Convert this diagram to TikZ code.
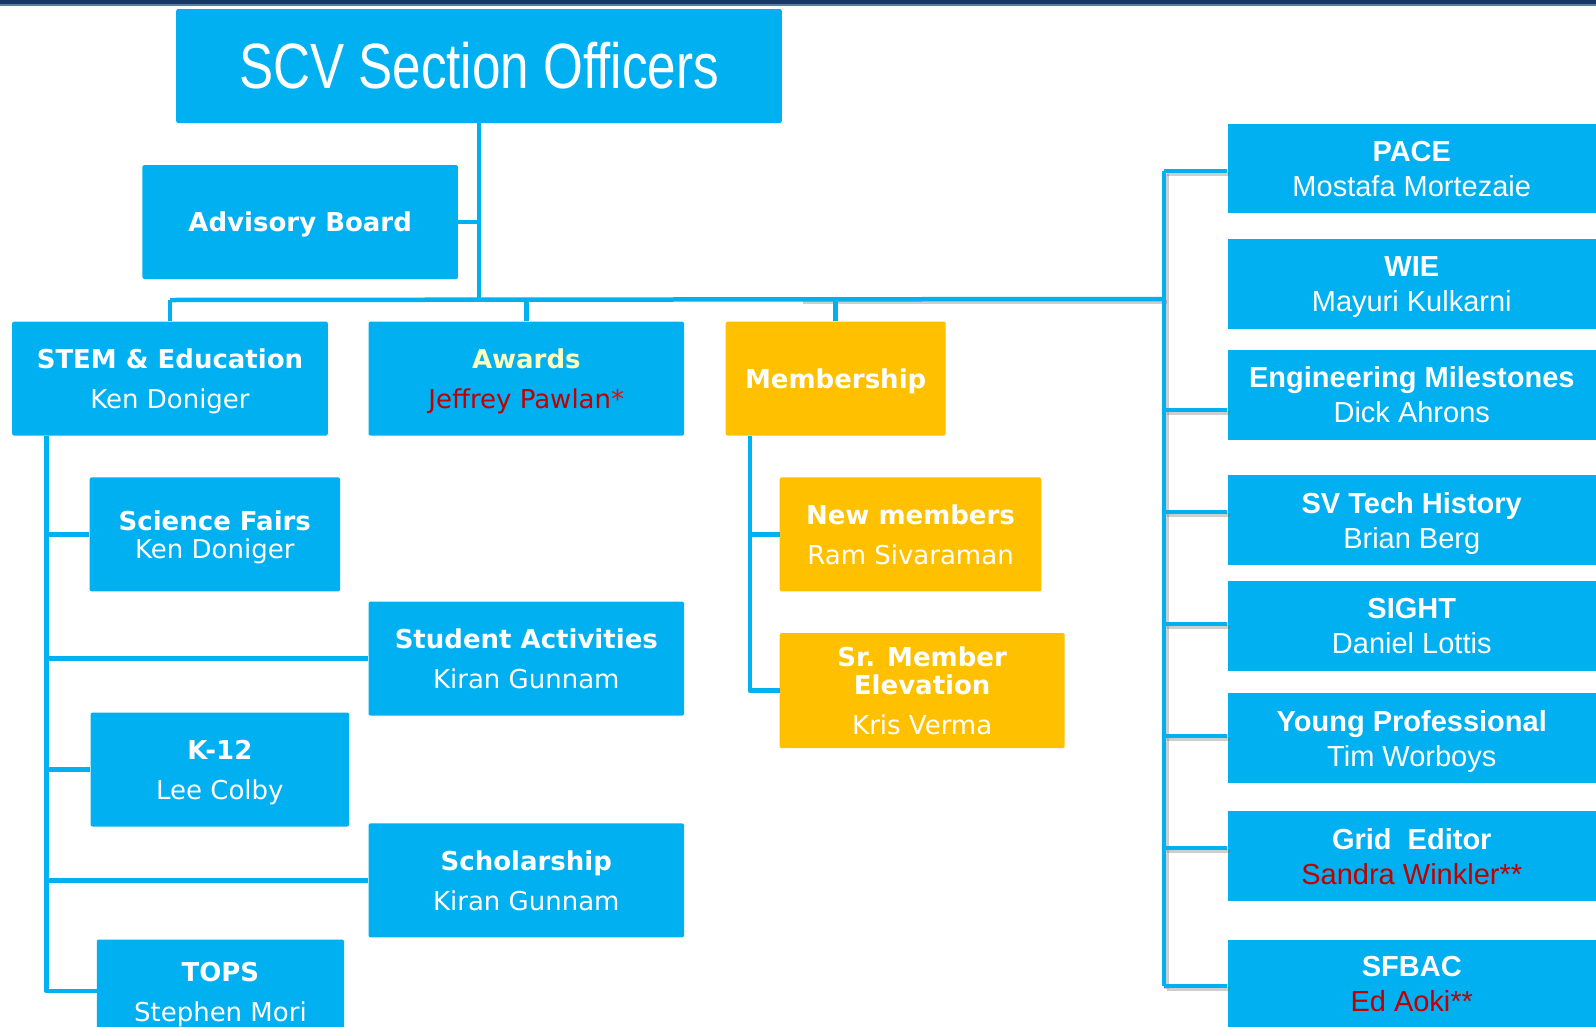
\documentclass[tikz,border=0pt]{standalone}
\usepackage{fontspec}
\setmainfont{DejaVu Sans}
\newfontfamily\arialf{Liberation Sans}
\newfontfamily\narrowf[FakeStretch=0.8]{Liberation Sans}
\definecolor{ieeeblue}{RGB}{0,176,240}
\definecolor{goldbox}{RGB}{255,192,0}
\definecolor{darkred}{RGB}{192,0,0}
\definecolor{paleyellow}{RGB}{255,255,190}
\definecolor{navyband}{RGB}{24,56,94}
\definecolor{navylight}{RGB}{90,125,165}
\newcommand{\nodepth}[1]{\raisebox{0pt}[\height][0pt]{#1}}
\tikzset{
  lbox/.style={rectangle, fill=ieeeblue, rounded corners=2pt, inner sep=0pt, align=center,
    text=white, minimum height=114pt, font=\fontsize{26}{40}\selectfont},
  obox/.style={lbox, fill=goldbox},
  rbox/.style={rectangle, fill=ieeeblue, inner sep=0pt, align=center, text=white,
    minimum width=368.5pt, minimum height=89.6pt, font=\arialf\fontsize{29}{35}\selectfont},
  conn/.style={draw=ieeeblue, line width=4.5pt},
  shad/.style={draw=black!55, opacity=0.35, line width=4.5pt, transform canvas={shift={(2.5pt,-3pt)}}},
}
\begin{document}
\begin{tikzpicture}[x=1pt,y=-1pt]
\useasboundingbox (0,0) rectangle (1596,1026);
\clip (0,0) rectangle (1596,1026);
\fill[white] (0,0) rectangle (1596,1026);
\fill[navyband] (0,0) rectangle (1596,4);
\fill[navylight] (0,4) rectangle (1596,5.5);

% title and top level
\node[lbox, minimum width=605.6pt, font=\narrowf\fontsize{64}{70}\selectfont] (title) at (479,66) {SCV Section Officers};
\node[lbox, minimum width=315.5pt] (adv) at (300.2,222) {\nodepth{\textbf{Advisory Board}}};

\node[lbox, minimum width=315.6pt] (stem) at (170,378.6) {\textbf{STEM \& Education}\\\nodepth{Ken Doniger}};
\node[lbox, minimum width=315.5pt] (awards) at (526.3,378.6) {\textbf{\textcolor{paleyellow}{Awards}}\\\nodepth{\textcolor{darkred}{Jeffrey Pawlan}\textcolor{red}{*}}};
\node[obox, minimum width=220pt] (mem) at (835.7,378.6) {\nodepth{\textbf{Membership}}};

% STEM children
\node[lbox, minimum width=250.4pt] (sf) at (214.8,534.4) {\textbf{Science Fairs}\\[-11.7pt]\nodepth{Ken Doniger}};
\node[lbox, minimum width=315.5pt] (sa) at (526.3,658.6) {\textbf{Student Activities}\\\nodepth{Kiran Gunnam}};
\node[lbox, minimum width=258.5pt] (k12) at (219.9,769.5) {\textbf{K-12}\\\nodepth{Lee Colby}};
\node[lbox, minimum width=315.5pt] (sch) at (526.3,880.4) {\textbf{Scholarship}\\\nodepth{Kiran Gunnam}};
\node[lbox, minimum width=247.3pt, minimum height=104pt] (tops) at (220.4,991.5) {\textbf{TOPS}\\\nodepth{Stephen Mori}};

% Membership children
\node[obox, minimum width=261.6pt] (nm) at (910.5,534.4) {\textbf{New members}\\\nodepth{Ram Sivaraman}};
\node[obox, minimum width=285pt, minimum height=115pt] (sr) at (922.2,690.6) {\textbf{Sr. Member}\\[-11.7pt]\textbf{Elevation}\\\nodepth{Kris Verma}};

% right column
\node[rbox, minimum height=88.5pt] (pace) at (1411.75,168.5) {\textbf{PACE}\\\nodepth{Mostafa Mortezaie}};
\node[rbox] (wie) at (1411.75,284) {\textbf{WIE}\\\nodepth{Mayuri Kulkarni}};
\node[rbox] (em) at (1411.75,394.9) {\textbf{Engineering Milestones}\\\nodepth{Dick Ahrons}};
\node[rbox] (svth) at (1411.75,520.1) {\textbf{SV Tech History}\\\nodepth{Brian Berg}};
\node[rbox] (sight) at (1411.75,626) {\textbf{SIGHT}\\\nodepth{Daniel Lottis}};
\node[rbox] (yp) at (1411.75,738) {\textbf{Young Professional}\\\nodepth{Tim Worboys}};
\node[rbox] (grid) at (1411.75,856) {\textbf{Grid\ \ Editor}\\\nodepth{\textcolor{darkred}{Sandra Winkler**}}};
\node[rbox] (sfbac) at (1411.75,984.3) {\textbf{SFBAC}\\\nodepth{\textcolor{darkred}{Ed Aoki**}}};

% coordinates
\coordinate (bus) at (479,300);
\coordinate (rtop) at (1164,171);
\coordinate (rbot) at (1164,986);
\coordinate (rjoin) at (1164,299);
\coordinate (bmid) at (800,299);
\coordinate (sv) at ([xshift=34.3pt]stem.south west);
\coordinate (mv) at ([xshift=24.3pt]mem.south west);

% shadows on right-hand connectors
\begin{scope}[shad]
\draw (bmid) -- (rjoin);
\draw (rtop) -- (rbot);
\foreach \n/\s in {pace/-2.5, em/-15, svth/8, sight/2, yp/2, grid/8, sfbac/-1.7}
  \draw ([yshift=\s pt]\n.west) -- ([yshift=\s pt]\n.west -| rtop);
\end{scope}

% connectors
\draw[conn] (title.south) -- (bus);
\draw[conn] (adv.east) -- (adv.east -| bus);
\draw[conn] (stem.north |- bus) -- (rjoin);
\draw[conn] (stem.north) -- (stem.north |- bus);
\draw[conn] (awards.north) -- (awards.north |- bus);
\draw[conn] (mem.north) -- (mem.north |- bus);
\draw[conn] (rtop) -- (rbot);
\foreach \n/\s in {pace/-2.5, em/-15, svth/8, sight/2, yp/2, grid/8, sfbac/-1.7}
  \draw[conn] ([yshift=\s pt]\n.west) -- ([yshift=\s pt]\n.west -| rtop);

\draw[conn, line join=round] (sv) |- ([yshift=0.5pt]tops.west);
\foreach \n in {sf, sa, k12, sch}
  \draw[conn] (sv |- \n.west) -- (\n.west);
\draw[conn, line join=round] (mv) |- (sr.west);
\draw[conn] (mv |- nm.west) -- (nm.west);
\end{tikzpicture}
\end{document}
